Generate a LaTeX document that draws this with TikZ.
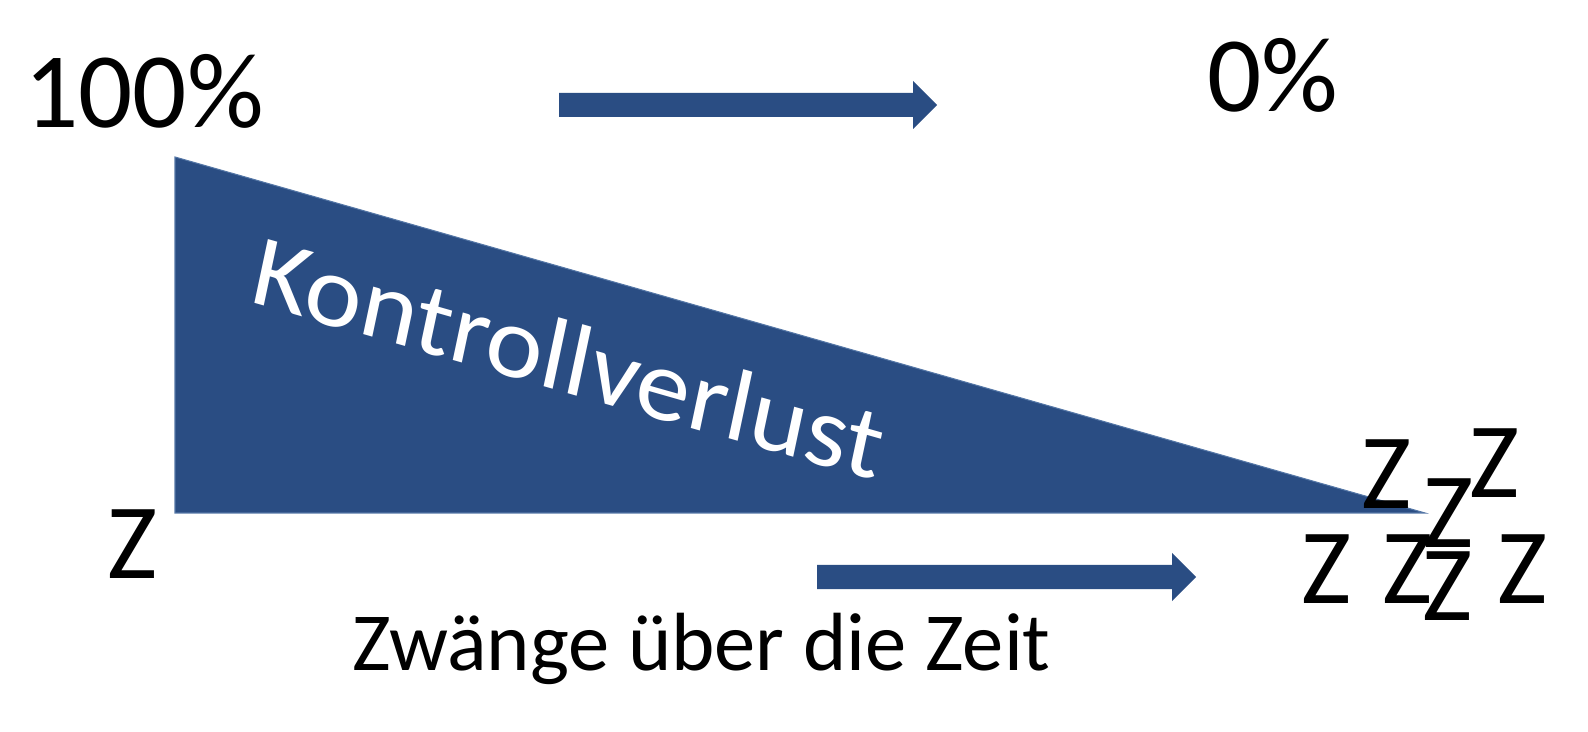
\documentclass[tikz,border=0pt]{standalone}
\usepackage{fontspec}
\setmainfont{Carlito}
\newfontfamily\slantfont[FakeSlant=0.2]{Carlito}
\usetikzlibrary{positioning}
\definecolor{darkblue}{RGB}{42,77,131}
\definecolor{edgeblue}{RGB}{84,118,166}

\begin{document}
\begin{tikzpicture}[x=0.02cm, y=-0.02cm,
    every node/.style={inner sep=0pt, outer sep=0pt},
    bigtext/.style={font=\fontsize{61}{70}\selectfont},
    smalltext/.style={font=\fontsize{47}{56}\selectfont},
    zed/.style={bigtext, anchor=base},
    blockarrow/.style={fill=darkblue}
  ]
  \useasboundingbox (0,0) rectangle (1588,732);

  % Triangle
  \filldraw[fill=darkblue, draw=edgeblue, line width=0.6pt] (175,157) -- (175,513) -- (1425,513) -- cycle;
  \node (loss) [font=\fontsize{60}{70}\selectfont\slantfont, text=white, anchor=base west, yslant=-0.285] at (248,302) {Kontrollverlust};

  % Labels
  \node (full) [bigtext, anchor=base west] at (24,128) {100\%};
  \node (none) [bigtext, anchor=base west] at (1207,112) {0\%};
  \node (time) [smalltext, anchor=base west] at (352,670) {Zwänge über die Zeit};

  % Arrows
  \fill[blockarrow] (559,93) -- (913,93) -- (913,81) -- (937,105) -- (913,129) -- (913,117) -- (559,117) -- cycle;
  \fill[blockarrow] (817,565) -- (1172,565) -- (1172,553) -- (1196,577) -- (1172,601) -- (1172,589) -- (817,589) -- cycle;

  % Z's
  \node (z0) [zed] at (133,579) {Z};
  \node (z1) [zed] at (1387,509) {Z};
  \node (z2) [zed] at (1495,498) {Z};
  \node (z3) [zed] at (1449,548) {Z};
  \node (z4) [zed] at (1327,603) {Z};
  \node (z5) [zed] at (1408,603) {Z};
  \node (z6) [zed] at (1448,620) {Z};
  \node (z7) [zed] at (1523,603) {Z};
\end{tikzpicture}
\end{document}
